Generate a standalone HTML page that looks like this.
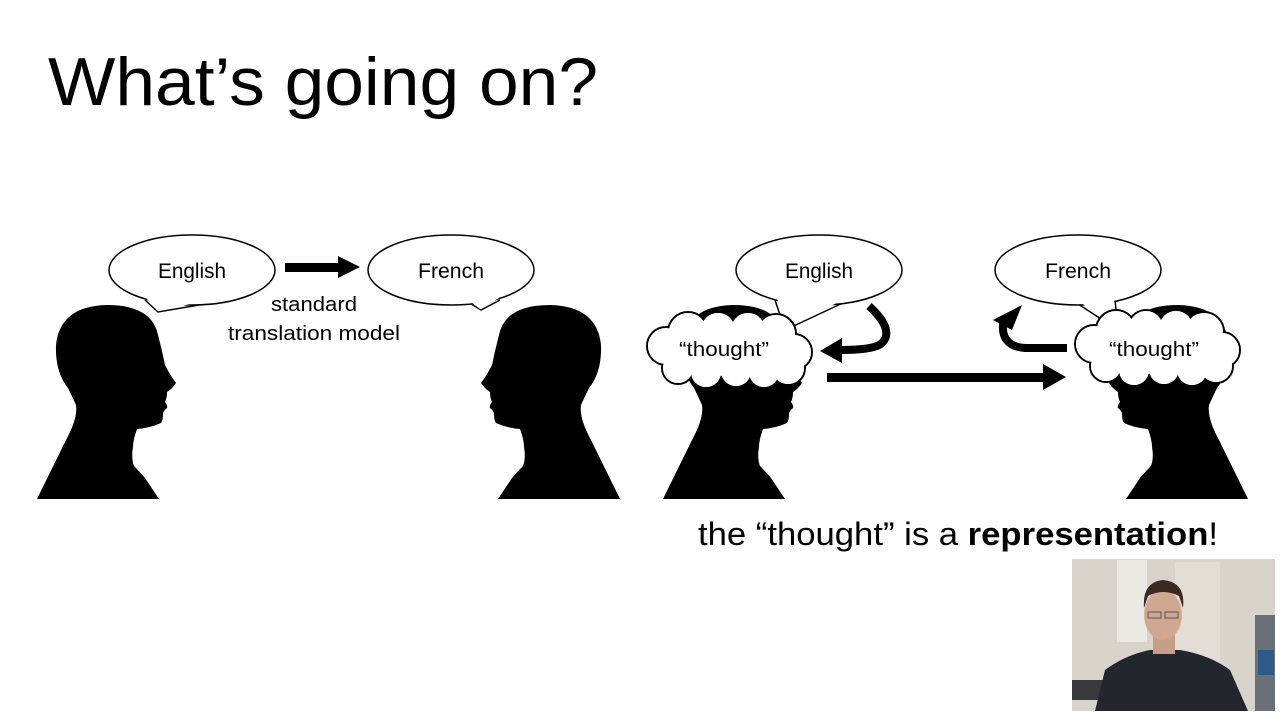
<!DOCTYPE html>
<html><head><meta charset="utf-8"><style>
html,body{margin:0;padding:0;background:#fff;}
svg{display:block}
text{font-family:"Liberation Sans",sans-serif;fill:#000}
</style></head><body>
<svg width="1283" height="725" viewBox="0 0 1283 725" xmlns="http://www.w3.org/2000/svg">
<defs>
<path id="head" d="M37,499 L66,440 Q78,418 76,405 Q72,396 68,388 Q55,372 56,345 Q60,306 107,305 Q152,305 158,335 Q162,350 165,365 Q170,375 176,383 Q172,389 167,392 Q167,398 165,402 Q168,406 167,408 Q163,411 163,414 Q163,420 161,423 Q150,428 137,429 Q133,440 133,447 Q131,458 134,466 Q140,472 145,478 L159,499 Z" fill="#000"/>
<g id="cloud">
<g stroke="#000" stroke-width="2" fill="#fff">
<circle cx="-64" cy="-4" r="19"/><circle cx="-42" cy="-18" r="20"/><circle cx="-12" cy="-20" r="18"/><circle cx="18" cy="-20" r="18"/><circle cx="46" cy="-16" r="20"/><circle cx="64" cy="2" r="18"/><circle cx="58" cy="18" r="17"/><circle cx="34" cy="22" r="16"/><circle cx="6" cy="21" r="16"/><circle cx="-24" cy="22" r="16"/><circle cx="-52" cy="18" r="16"/>
</g>
<g fill="#fff">
<circle cx="-64" cy="-4" r="18"/><circle cx="-42" cy="-18" r="19"/><circle cx="-12" cy="-20" r="17"/><circle cx="18" cy="-20" r="17"/><circle cx="46" cy="-16" r="19"/><circle cx="64" cy="2" r="17"/><circle cx="58" cy="18" r="16"/><circle cx="34" cy="22" r="15"/><circle cx="6" cy="21" r="15"/><circle cx="-24" cy="22" r="15"/><circle cx="-52" cy="18" r="15"/>
<ellipse cx="0" cy="0" rx="64" ry="26"/>
</g>
</g>
</defs>

<text x="48" y="105" font-size="68" textLength="550" lengthAdjust="spacingAndGlyphs">What’s going on?</text>

<use href="#head"/>
<use href="#head" transform="translate(657,0) scale(-1,1)"/>
<use href="#head" transform="translate(626,0)"/>
<use href="#head" transform="translate(1285,0) scale(-1,1)"/>

<g stroke="#000" stroke-width="1.5" fill="#fff">
<path d="M145,300 L158,312 L205,304"/>
<ellipse cx="192" cy="270" rx="83" ry="35"/>
<path d="M465,300 L481,310 L500,300"/>
<ellipse cx="451" cy="270" rx="83" ry="35"/>
<path d="M775,300 L785,330 L845,302"/>
<ellipse cx="819" cy="270" rx="83" ry="35"/>
<path d="M1075,302 L1118,330 L1115,300"/>
<ellipse cx="1078" cy="270" rx="83" ry="35"/>
</g>
<g fill="#fff">
<path d="M146,298 L158,311 L204,301 Z"/>
<path d="M466,298 L480,309 L499,298 Z"/>
<path d="M777,298 L785,328 L843,300 Z"/>
<path d="M1077,300 L1117,328 L1114,298 Z"/>
</g>
<text x="192" y="278" font-size="21" text-anchor="middle" textLength="68" lengthAdjust="spacingAndGlyphs">English</text>
<text x="451" y="278" font-size="21" text-anchor="middle" textLength="66" lengthAdjust="spacingAndGlyphs">French</text>
<text x="819" y="278" font-size="21" text-anchor="middle" textLength="68" lengthAdjust="spacingAndGlyphs">English</text>
<text x="1078" y="278" font-size="21" text-anchor="middle" textLength="66" lengthAdjust="spacingAndGlyphs">French</text>

<rect x="285" y="263" width="55" height="9" fill="#000"/>
<path d="M338,256 L360,267 L338,278 Z" fill="#000"/>
<text x="314" y="311" font-size="20" text-anchor="middle" textLength="86" lengthAdjust="spacingAndGlyphs">standard</text>
<text x="314" y="340" font-size="20" text-anchor="middle" textLength="172" lengthAdjust="spacingAndGlyphs">translation model</text>

<use href="#cloud" transform="translate(730,350)"/>
<use href="#cloud" transform="translate(1158,348)"/>
<text x="724" y="356" font-size="20" text-anchor="middle" textLength="90" lengthAdjust="spacingAndGlyphs">“thought”</text>
<text x="1154" y="356" font-size="20" text-anchor="middle" textLength="90" lengthAdjust="spacingAndGlyphs">“thought”</text>

<path d="M869,306 Q895,330 882,343 Q875,350 840,350" stroke="#000" stroke-width="8" fill="none"/>
<path d="M842,338 L820,351 L842,363 Z" fill="#000"/>
<path d="M1067,348 L1025,348 Q998,346 1004,318" stroke="#000" stroke-width="8" fill="none"/>
<path d="M993,320 L1022,305 L1012,330 Z" fill="#000"/>

<rect x="827" y="373" width="218" height="9" fill="#000"/>
<path d="M1043,364 L1066,377 L1043,390 Z" fill="#000"/>

<text x="698" y="545" font-size="32" textLength="520" lengthAdjust="spacingAndGlyphs">the “thought” is a <tspan font-weight="bold">representation</tspan>!</text>

<g>
<rect x="1072" y="559" width="203" height="152" fill="#d8d4cb"/>
<rect x="1175" y="562" width="45" height="140" fill="#e2ded6"/>
<rect x="1117" y="560" width="30" height="82" fill="#ebe9e4"/>
<rect x="1255" y="615" width="20" height="96" fill="#6a6f78"/>
<rect x="1258" y="650" width="16" height="25" fill="#2e5a8a"/>
<rect x="1072" y="680" width="35" height="20" fill="#3a3a3d"/>
<path d="M1095,711 L1105,670 Q1125,655 1150,650 L1180,650 Q1210,655 1230,670 L1248,711 Z" fill="#23272d"/>
<rect x="1153" y="630" width="22" height="24" fill="#c79d87"/>
<ellipse cx="1163" cy="615" rx="19" ry="25" fill="#d0a892"/>
<path d="M1144,608 Q1142,582 1163,580 Q1186,582 1183,608 L1179,596 Q1163,588 1148,596 Z" fill="#3b2a22"/>
<rect x="1148" y="612" width="13" height="6" fill="none" stroke="#555" stroke-width="1"/>
<rect x="1165" y="612" width="13" height="6" fill="none" stroke="#555" stroke-width="1"/>
</g>
</svg>
</body></html>
